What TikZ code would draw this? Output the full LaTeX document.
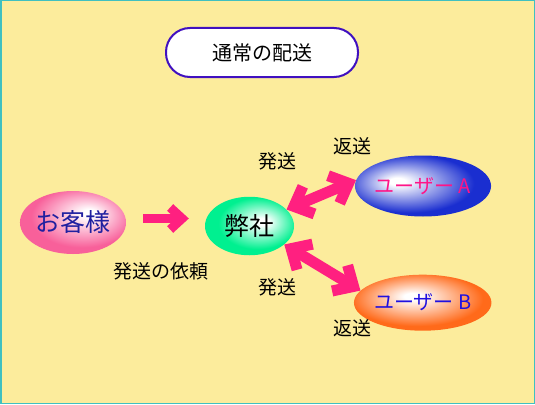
\documentclass[tikz,border=0pt]{standalone}
\usepackage{fontspec}
\setmainfont{Noto Sans CJK JP}
\usetikzlibrary{shapes.geometric,arrows.meta}
\definecolor{bg}{HTML}{FCEC9C}
\definecolor{frame}{HTML}{40C0C0}
\definecolor{titleborder}{HTML}{4010C0}
\definecolor{arrowpink}{HTML}{FF2080}
\definecolor{kyakuc}{HTML}{F8609A}
\definecolor{heishac}{HTML}{00F090}
\definecolor{userac}{HTML}{1A2ED0}
\definecolor{userbc}{HTML}{FF6A1A}
\definecolor{kyakut}{HTML}{2020A0}
\definecolor{userat}{HTML}{FF1488}
\definecolor{userbt}{HTML}{2010E0}
\pgfdeclareradialshading{kyakuball}{\pgfpoint{8bp}{8bp}}{color(0bp)=(white); color(3bp)=(white); color(24bp)=(kyakuc); color(50bp)=(kyakuc)}
\pgfdeclareradialshading{heishaball}{\pgfpoint{8bp}{4bp}}{color(0bp)=(white); color(3bp)=(white); color(22bp)=(heishac); color(50bp)=(heishac)}
\pgfdeclareradialshading{useraball}{\pgfpoint{-10bp}{4bp}}{color(0bp)=(white); color(3bp)=(white); color(24bp)=(userac); color(50bp)=(userac)}
\pgfdeclareradialshading{userbball}{\pgfpoint{-4bp}{6bp}}{color(0bp)=(white); color(3bp)=(white); color(24bp)=(userbc); color(50bp)=(userbc)}
\tikzset{
  ball/.style={ellipse, inner sep=0pt},
  lab/.style={font=\fontsize{19}{19}\selectfont, text=black},
  bigfont/.style={font=\fontsize{25}{25}\selectfont},
  userfont/.style={font=\fontsize{20}{20}\selectfont},
  bigarrow/.style={draw=arrowpink, line width=9pt, -{Straight Barb[length=12pt, width=22pt, line join=miter, line cap=butt]}},
  dblarrow/.style={draw=arrowpink, line width=11pt, {Straight Barb[length=16pt, width=30pt, line join=miter, line cap=butt]}-{Straight Barb[length=16pt, width=30pt, line join=miter, line cap=butt]}},
  titlebox/.style={draw=titleborder, line width=2pt, fill=white, rounded corners=24pt, minimum width=192pt, minimum height=49pt, font=\fontsize{20}{20}\selectfont}
}
\begin{document}
\begin{tikzpicture}[x=1pt, y=-1pt]
\useasboundingbox (0,0) rectangle (535,404);
\fill[bg] (0,0) rectangle (535,404);
\draw[frame, line width=1.5pt] (0.75,0.75) rectangle (534.25,403.25);
\node[titlebox] (title) at (262,52.5) {通常の配送};
\node[ball, minimum width=105pt, minimum height=63pt, shading=kyakuball, bigfont, text=kyakut] (kyaku) at (73,222.5) {お客様};
\node[ball, minimum width=89pt, minimum height=58.5pt, shading=heishaball, bigfont, text=black] (heisha) at (249.5,226) {弊社};
\node[ball, minimum width=119pt, minimum height=61pt, shading=useraball, userfont, text=userat] (userA) at (423,186) {ユーザー A};
\node[ball, minimum width=115pt, minimum height=56pt, shading=userbball, userfont, text=userbt] (userB) at (422.7,302.7) {ユーザー B};
\draw[bigarrow] ([xshift=17pt,yshift=4pt]kyaku.east) -- ([xshift=-16pt,yshift=7.5pt]heisha.west);
\draw[dblarrow] (heisha.24) -- (userA.175);
\draw[dblarrow] (heisha.-28) -- (userB.169);
\node[lab] (l1) at (277,161) {発送};
\node[lab] (l2) at (352,146) {返送};
\node[lab] (l3) at (160.5,271) {発送の依頼};
\node[lab] (l4) at (277,287) {発送};
\node[lab] (l5) at (352,328) {返送};
\end{tikzpicture}
\end{document}
